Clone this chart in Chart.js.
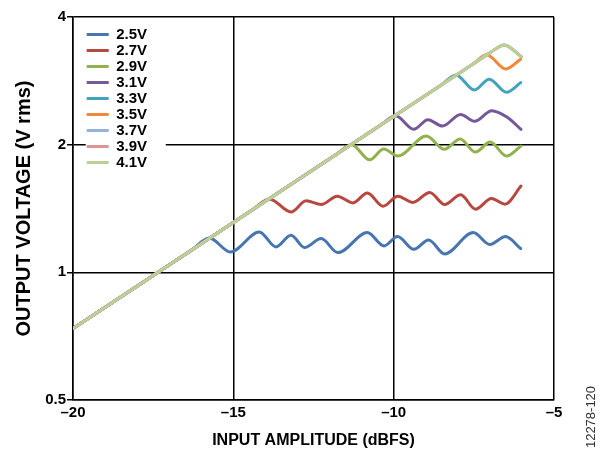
<!DOCTYPE html>
<html><head><meta charset="utf-8">
<script src="https://cdn.jsdelivr.net/npm/chart.js@4/dist/chart.umd.min.js"></script>
<style>html,body{margin:0;padding:0;background:#fff;}#wrap{width:604px;height:452px;position:relative;}</style>
</head><body><div id="wrap"><canvas id="c" width="604" height="452"></canvas></div>
<script>
// ---- data ----
const seriesLabels = ['2.5V','2.7V','2.9V','3.1V','3.3V','3.5V','3.7V','3.9V','4.1V'];
const seriesColors = ['#4675B2','#B8473F','#91B24D','#74589A','#43A3BD','#F0883A','#95B3D7','#D99694','#BBD097'];

const x25 = [-20, -16.8, -16.3, -15.75, -15.09, -14.19, -13.67, -13.20, -12.78, -12.26, -11.74, -10.82, -10.30, -9.88, -9.37, -8.91, -8.41, -7.52, -7.00, -6.51, -6.04];
const y25 = [0.737, 1.065, 1.128, 1.205, 1.117, 1.245, 1.148, 1.223, 1.144, 1.201, 1.113, 1.241, 1.154, 1.214, 1.133, 1.192, 1.105, 1.241, 1.163, 1.214, 1.138];

const x27 = [-20, -14.9, -14.4, -13.875, -13.20, -12.73, -12.26, -11.76, -11.27, -10.82, -10.33, -9.87, -9.40, -8.875, -8.41, -7.91, -7.45, -6.95, -6.53, -6.03];
const y27 = [0.737, 1.326, 1.404, 1.490, 1.388, 1.474, 1.445, 1.512, 1.458, 1.539, 1.432, 1.512, 1.461, 1.543, 1.445, 1.523, 1.409, 1.493, 1.448, 1.597];

const x29 = [-20, -12.3, -11.8, -11.31, -10.75, -10.31, -9.87, -8.98, -8.42, -7.93, -7.45, -6.99, -6.48, -6.03];
const y29 = [0.737, 1.789, 1.894, 2.000, 1.842, 1.953, 1.880, 2.096, 1.950, 2.062, 1.921, 2.028, 1.880, 1.985];

const x31 = [-20, -10.9, -10.4, -9.94, -9.375, -8.93, -8.48, -7.91, -7.48, -6.94, -6.47, -6.03];
const y31 = [0.737, 2.101, 2.226, 2.340, 2.174, 2.290, 2.213, 2.356, 2.270, 2.405, 2.324, 2.174];

const x33 = [-20, -9.0, -8.5, -8.06, -7.48, -7.02, -6.48, -6.04];
const y33 = [0.737, 2.615, 2.770, 2.920, 2.692, 2.853, 2.658, 2.801];

const x35 = [-20, -8.0, -7.5, -7.10, -6.50, -6.04];
const y35 = [0.737, 2.934, 3.108, 3.257, 3.017, 3.181];

const x37 = [-20, -7.5, -7.0, -6.55, -6.02];
const y37 = [0.737, 3.108, 3.292, 3.438, 3.222];

const x39 = [-20, -7.5, -7.0, -6.55, -6.02];
const y39 = [0.737, 3.108, 3.292, 3.438, 3.222];

const x41 = [-20, -7.5, -7.0, -6.55, -6.02];
const y41 = [0.737, 3.108, 3.292, 3.438, 3.222];

const xTickValues = [-20, -15, -10, -5];
const xTickLabels = ['\u201320', '\u201315', '\u201310', '\u20135'];
const yTickValues = [0.5, 1, 2, 4];
const yTickLabels = ['0.5', '1', '2', '4'];

const seriesX = [x25, x27, x29, x31, x33, x35, x37, x39, x41];
const seriesY = [y25, y27, y29, y31, y33, y35, y37, y39, y41];

// ---- chart ----
Chart.defaults.font.family = 'Arial, "Liberation Sans", Helvetica, sans-serif';
Chart.defaults.font.weight = 'bold';
Chart.defaults.color = '#000';

const LEG_LEFT = 85.7, LEG_TOP = 26;
const legendPlacement = {
  id: 'legendPlacement',
  afterLayout(chart) {
    const lg = chart.legend;
    if (!lg) return;
    const dx = LEG_LEFT - lg.left, dy = LEG_TOP - lg.top;
    lg.left += dx; lg.right += dx; lg.top += dy; lg.bottom += dy;
    (lg.legendHitBoxes || []).forEach(h => { h.left += dx; h.top += dy; });
    if (!lg._bgWrapped) {
      const orig = lg.draw;
      lg.draw = function () {
        const c = this.ctx;
        let r = this.left, b = this.top;
        (this.legendHitBoxes || []).forEach(h => { r = Math.max(r, h.left + h.width); b = Math.max(b, h.top + h.height); });
        c.save();
        c.fillStyle = '#fff';
        c.fillRect(this.left, this.top, r - this.left + 6, b - this.top + 4);
        c.restore();
        orig.apply(this, arguments);
      };
      lg._bgWrapped = true;
    }
  }
};
const figureCode = {
  id: 'figureCode',
  afterDraw(chart) {
    const c = chart.ctx;
    c.save();
    c.translate(591, 417);
    c.rotate(-Math.PI / 2);
    c.font = 'normal 13px Arial, "Liberation Sans", sans-serif';
    c.fillStyle = '#333';
    c.textAlign = 'center';
    c.textBaseline = 'middle';
    c.fillText('12278-120', 0, 0);
    c.restore();
  }
};

new Chart(document.getElementById('c'), {
  type: 'line',
  data: {
    datasets: seriesLabels.map((lab, i) => ({
      label: lab,
      data: seriesX[i].map((x, j) => ({ x: x, y: seriesY[i][j] })),
      borderColor: seriesColors[i],
      backgroundColor: seriesColors[i],
      borderWidth: 3,
      pointRadius: 0,
      fill: false,
      cubicInterpolationMode: 'monotone',
      borderCapStyle: 'round',
      borderJoinStyle: 'round',
      order: seriesLabels.length - 1 - i
    }))
  },
  options: {
    responsive: false,
    animation: false,
    devicePixelRatio: 1,
    layout: { padding: { left: 0, right: 50, top: 17, bottom: 0 } },
    plugins: {
      legend: {
        position: 'chartArea',
        align: 'start',
        labels: {
          usePointStyle: true,
          pointStyle: 'line',
          pointStyleWidth: 22,
          padding: 1,
          color: '#000',
          font: { size: 15, weight: 'bold' },
          sort: (a, b) => a.datasetIndex - b.datasetIndex
        }
      },
      tooltip: { enabled: false }
    },
    scales: {
      x: {
        type: 'linear',
        min: -20, max: -5,
        afterBuildTicks: s => { s.ticks = xTickValues.map(v => ({ value: v })); },
        afterFit: s => { s.height = 52; },
        ticks: { padding: 4, color: '#000', font: { size: 15, weight: 'bold' }, callback: (v, i) => xTickLabels[i] },
        grid: { color: '#000', lineWidth: 1.5, drawTicks: false },
        border: { color: '#000', width: 1.5 },
        title: { display: true, text: 'INPUT AMPLITUDE (dBFS)', color: '#000', font: { size: 16, weight: 'bold' }, padding: { top: 0, bottom: 2 } }
      },
      y: {
        type: 'logarithmic',
        min: 0.5, max: 4,
        afterBuildTicks: s => { s.ticks = yTickValues.map(v => ({ value: v })); },
        afterFit: s => { s.width = 73; },
        ticks: { padding: 1, color: '#000', font: { size: 15, weight: 'bold' }, callback: (v, i) => yTickLabels[i] },
        grid: { color: '#000', lineWidth: 1.5, tickLength: 6 },
        border: { color: '#000', width: 1.5 },
        title: { display: true, text: 'OUTPUT VOLTAGE (V rms)', color: '#000', font: { size: 20, weight: 'bold' }, padding: { top: 12, bottom: 0 } }
      }
    }
  },
  plugins: [legendPlacement, figureCode]
});
</script></body></html>
